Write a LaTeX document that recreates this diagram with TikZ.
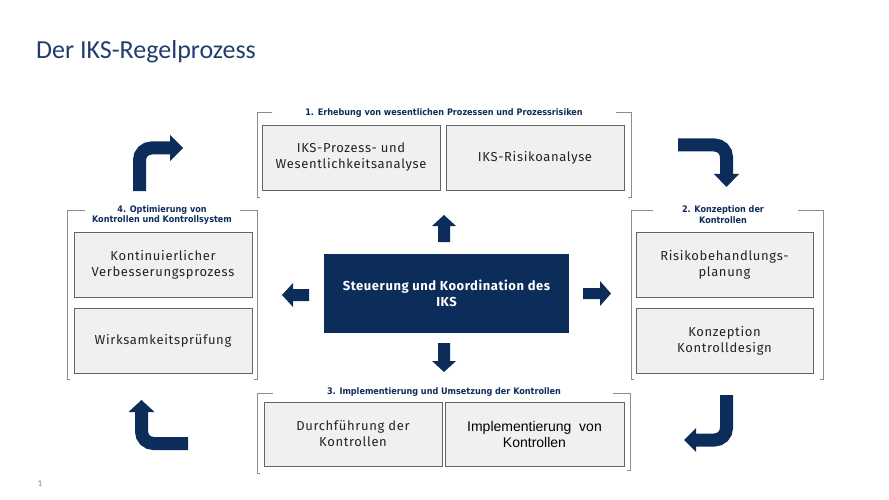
\documentclass[tikz,border=0pt]{standalone}
\usepackage{fontspec}
\setmainfont{Fira Sans}[LetterSpace=5]
\newfontfamily\centerfont{Fira Sans}[LetterSpace=4.4]
\newfontfamily\titlefont{Carlito}
\newfontfamily\lblfont{DejaVu Sans Condensed}
\newfontfamily\arialfont{Liberation Sans}
\definecolor{navy}{RGB}{12,44,90}
\definecolor{titleblue}{RGB}{31,62,110}
\definecolor{boxgray}{RGB}{240,240,240}
\definecolor{boxline}{RGB}{100,100,100}
\definecolor{brk}{RGB}{140,140,140}
\definecolor{txt}{RGB}{35,35,35}
\tikzset{
  x=1pt, y=-1pt,
  graybox/.style={draw=boxline, line width=0.8pt, fill=boxgray, align=center,
    font=\fontsize{13}{16}\selectfont, text=txt, inner sep=0pt},
  grplabel/.style={font=\lblfont\bfseries\fontsize{9}{10.5}\selectfont, text=navy, align=center, inner sep=0pt},
  bracket/.style={draw=brk, line width=0.7pt},
  bent/.style={draw=navy, line width=13pt, rounded corners=12pt},
  headfill/.style={fill=navy, draw=none},
}
\begin{document}
\begin{tikzpicture}
\useasboundingbox (0,0) rectangle (889,500);
% title
\node[anchor=base west, inner sep=0pt, font=\titlefont\fontsize{26}{30}\selectfont, text=titleblue] (title) at (36,59) {Der IKS-Regelprozess};
\node[anchor=base, inner sep=0pt, font=\titlefont\fontsize{9}{10}\selectfont, text=gray] (pgnum) at (40,486) {1};

% ---- group 1 (top)
\draw[bracket] (272,112) -- (257,112) -- (257,197) -- (260,197);
\draw[bracket] (616,112) -- (631,112) -- (631,197) -- (628,197);
\node[grplabel] (lbl1) at (444,113) {1. Erhebung von wesentlichen Prozessen und Prozessrisiken};
\node[graybox, minimum width=178, minimum height=65] (b1a) at (351,157.5) {IKS-Prozess- und\\Wesentlichkeitsanalyse};
\node[graybox, minimum width=178, minimum height=65] (b1b) at (535,157.5) {IKS-Risikoanalyse};

% ---- group 2 (right)
\draw[bracket] (653,210) -- (631,210) -- (631,379) -- (634,379);
\draw[bracket] (798,210) -- (823,210) -- (823,379) -- (820,379);
\node[grplabel] (lbl2) at (723,214.5) {2. Konzeption der\\Kontrollen};
\node[graybox, minimum width=177, minimum height=65] (b2a) at (724.5,264.5) {Risikobehandlungs-\\planung};
\node[graybox, minimum width=177, minimum height=65] (b2b) at (724.5,340.5) {Konzeption\\Kontrolldesign};

% ---- group 3 (bottom)
\draw[bracket] (273,393) -- (257,393) -- (257,473) -- (260,473);
\draw[bracket] (613,393) -- (630,393) -- (630,470) -- (627,470);
\node[grplabel] (lbl3) at (444,392) {3. Implementierung und Umsetzung der Kontrollen};
\node[graybox, minimum width=178, minimum height=64] (b3a) at (353,434) {Durchführung der\\Kontrollen};
\node[graybox, minimum width=179, minimum height=64, font=\arialfont\fontsize{14}{16}\selectfont, text=black] (b3b) at (534.5,434) {Implementierung\ \ von\\Kontrollen};

% ---- group 4 (left)
\draw[bracket] (85,210) -- (67,210) -- (67,379) -- (70,379);
\draw[bracket] (240,210) -- (257,210) -- (257,379) -- (254,379);
\node[grplabel] (lbl4) at (162,215) {4. Optimierung von\\Kontrollen und Kontrollsystem};
\node[graybox, minimum width=178, minimum height=65] (b4a) at (163,264.5) {Kontinuierlicher\\Verbesserungsprozess};
\node[graybox, minimum width=178, minimum height=65] (b4b) at (163,340.5) {Wirksamkeitsprüfung};

% ---- center
\node[fill=navy, draw=none, minimum width=245, minimum height=79, align=center, text=white,
  font=\centerfont\fontsize{13}{16}\selectfont\bfseries, inner sep=0pt] (center) at (446.5,293.5) {Steuerung und Koordination des\\IKS};

% ---- straight block arrows
\fill[navy] (438,242) -- (438,226) -- (432,226) -- (444,215) -- (456,226) -- (450,226) -- (450,242) -- cycle;
\fill[navy] (438,343) -- (438,361) -- (432,361) -- (444,372) -- (456,361) -- (450,361) -- (450,343) -- cycle;
\fill[navy] (309,289) -- (293,289) -- (293,283) -- (282,295) -- (293,307) -- (293,301) -- (309,301) -- cycle;
\fill[navy] (583,288) -- (600,288) -- (600,281) -- (611,293.5) -- (600,306) -- (600,299) -- (583,299) -- cycle;

% ---- bent arrows
\draw[bent] (139.5,191) -- (139.5,148) -- (171,148);
\fill[headfill] (170,135) -- (183,148) -- (170,161) -- cycle;

\draw[bent] (678,145) -- (726.5,145) -- (726.5,175);
\fill[headfill] (714,174) -- (726.5,187) -- (739,174) -- cycle;

\draw[bent] (141.5,411) -- (141.5,443.5) -- (188,443.5);
\fill[headfill] (128.5,412) -- (141.5,400) -- (154.5,412) -- cycle;

\draw[bent] (726.5,395) -- (726.5,440) -- (694,440);
\fill[headfill] (696,428) -- (684,440) -- (696,452) -- cycle;
\end{tikzpicture}
\end{document}
